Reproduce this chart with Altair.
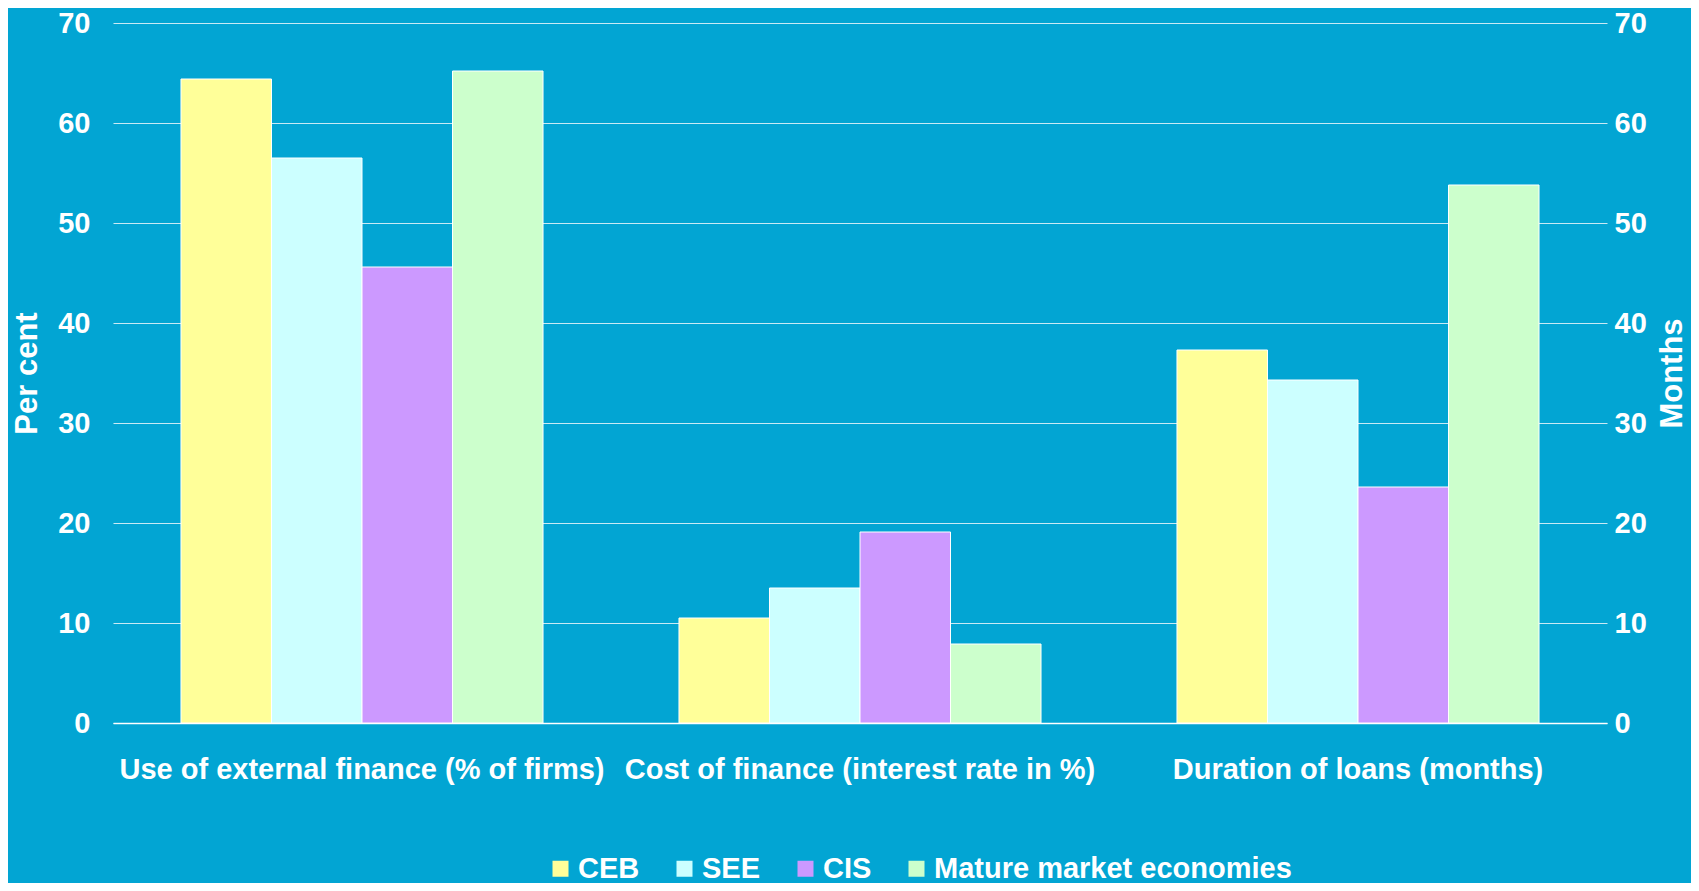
import altair as alt
import pandas as pd

categories = [
    "Use of external finance (% of firms)",
    "Cost of finance (interest rate in %)",
    "Duration of loans (months)",
]
regions = ["CEB", "SEE", "CIS", "Mature market economies"]
ceb = [64.4, 10.5, 37.3]
see = [56.5, 13.5, 34.3]
cis = [45.6, 19.1, 23.6]
mature = [65.2, 7.9, 53.8]
colors = ["#FFFF99", "#CCFFFF", "#CC99FF", "#CCFFCC"]
y_ticks = [0, 10, 20, 30, 40, 50, 60, 70]

rows = []
for series_name, vals in zip(regions, [ceb, see, cis, mature]):
    for cat, v in zip(categories, vals):
        rows.append({"category": cat, "region": series_name, "value": v})
df = pd.DataFrame(rows)

BG = "#02A5D3"
FONT = "Liberation Sans"

x_enc = alt.X(
    "category:N",
    sort=categories,
    scale=alt.Scale(paddingInner=0.273, paddingOuter=0.1365),
    axis=alt.Axis(
        title=None,
        labelAngle=0,
        labelFontSize=29,
        labelFont=FONT,
        labelFontWeight="bold",
        labelColor="white",
        labelPadding=32,
        labelLimit=700,
        ticks=False,
        tickSize=0,
        domain=True,
        domainColor="white",
        domainWidth=1.5,
        grid=False,
    ),
)
xo_enc = alt.XOffset("region:N", sort=regions, scale=alt.Scale(paddingInner=0, paddingOuter=0))

bars = alt.Chart(df).mark_bar(stroke="white", strokeWidth=1).encode(
    x=x_enc,
    xOffset=xo_enc,
    y=alt.Y(
        "value:Q",
        scale=alt.Scale(domain=[0, 70], nice=False),
        axis=alt.Axis(
            orient="left",
            values=y_ticks,
            title="Per cent",
            titleFont=FONT,
            titleFontSize=31,
            titleFontWeight="bold",
            titleColor="white",
            titleAngle=270,
            titleX=-86,
            titleY=350,
            titleAlign="center",
            titleBaseline="middle",
            labelFont=FONT,
            labelFontSize=29,
            labelFontWeight="bold",
            labelColor="white",
            labelPadding=23,
            ticks=False,
            tickSize=0,
            domain=False,
            grid=True,
            gridColor="#C9EAF5",
            gridWidth=1.2,
        ),
    ),
    color=alt.Color(
        "region:N",
        sort=regions,
        scale=alt.Scale(domain=regions, range=colors),
        legend=alt.Legend(
            title=None,
            orient="none",
            direction="horizontal",
            columns=4,
            legendX=433,
            legendY=831,
            padding=0,
            columnPadding=30,
            symbolType="square",
            symbolSize=256,
            symbolStrokeWidth=0,
            symbolOpacity=1,
            labelOffset=3,
            labelFont=FONT,
            labelFontSize=29,
            labelFontWeight="bold",
            labelColor="white",
            labelLimit=500,
        ),
    ),
)

right = alt.Chart(df).mark_bar(opacity=0).encode(
    x=x_enc,
    xOffset=xo_enc,
    y=alt.Y(
        "value:Q",
        scale=alt.Scale(domain=[0, 70], nice=False),
        axis=alt.Axis(
            orient="right",
            values=y_ticks,
            title="Months",
            titleFont=FONT,
            titleFontSize=31,
            titleFontWeight="bold",
            titleColor="white",
            titleAngle=270,
            titleX=65,
            titleY=350,
            titleAlign="center",
            titleBaseline="middle",
            labelFont=FONT,
            labelFontSize=29,
            labelFontWeight="bold",
            labelColor="white",
            labelPadding=7,
            ticks=False,
            tickSize=0,
            domain=False,
            grid=False,
        ),
    ),
)

chart = (
    alt.layer(bars, right)
    .resolve_scale(y="independent")
    .properties(
        width=1494,
        height=700,
        background=BG,
        autosize=alt.AutoSizeParams(type="none"),
        padding={"left": 105, "top": 15, "right": 84, "bottom": 160},
    )
    .configure_view(stroke=None)
)

chart.save("out.html", embed_options={"renderer": "svg", "actions": False})
